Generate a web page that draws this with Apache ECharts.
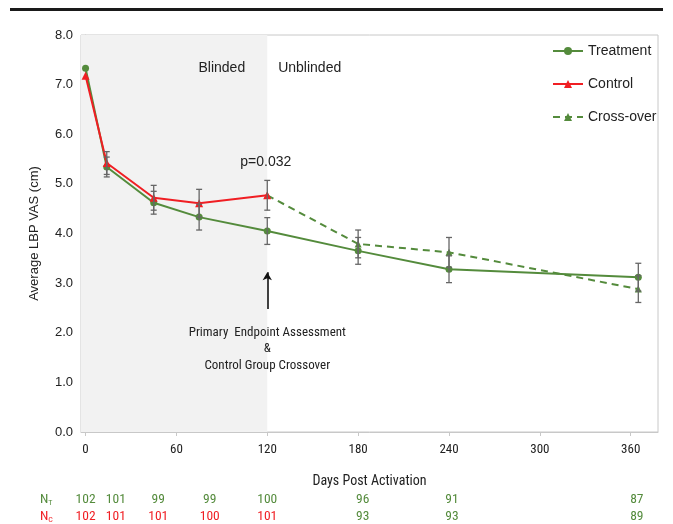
<!DOCTYPE html>
<html>
<head>
<meta charset="utf-8">
<script src="https://cdn.jsdelivr.net/npm/echarts@6/dist/echarts.min.js"></script>
<style>html,body{margin:0;padding:0;background:#fff}#c{width:673px;height:524px}</style>
</head>
<body>
<div id="c"></div>
<script>
// ---- data ----
const treatDays = [0, 14, 45, 75, 120, 180, 240, 365];
const treatVals = [7.33, 5.34, 4.62, 4.33, 4.05, 3.65, 3.28, 3.12];
const treatErr  = [0.00, 0.20, 0.23, 0.26, 0.27, 0.27, 0.27, 0.28];
const ctrlDays = [0, 14, 45, 75, 120];
const ctrlVals = [7.18, 5.42, 4.72, 4.61, 4.77];
const ctrlErr  = [0.00, 0.23, 0.25, 0.28, 0.30];
const crossDays = [120, 180, 240, 365];
const crossVals = [4.77, 3.79, 3.62, 2.88];
const crossErr  = [0.00, 0.28, 0.30, 0.27];
const xTicks = [0, 60, 120, 180, 240, 300, 360];
const yTicks = [0, 1, 2, 3, 4, 5, 6, 7, 8];
const nDays = [0, 20, 48, 82, 120, 183, 242, 364];
const nT = ['102', '101', '99', '99', '100', '96', '91', '87'];
const nC = ['102', '101', '101', '100', '101', '93', '93', '89'];
const nCColorIsControl = [true, true, true, true, true, false, false, false];

const GREEN = '#548b3c';
const RED = '#f01e23';
const NARROW = "'Liberation Sans Narrow','Roboto Condensed','Arial Narrow',sans-serif";
const SANS = "'Liberation Sans',Arial,sans-serif";

const pairs = (xs, ys) => xs.map((x, i) => [x, ys[i]]);
const errData = [];
treatDays.forEach((d, i) => { if (treatErr[i] > 0) errData.push([d, treatVals[i] - treatErr[i], treatVals[i] + treatErr[i]]); });
ctrlDays.forEach((d, i) => { if (ctrlErr[i] > 0) errData.push([d, ctrlVals[i] - ctrlErr[i], ctrlVals[i] + ctrlErr[i]]); });
crossDays.forEach((d, i) => { if (crossErr[i] > 0) errData.push([d, crossVals[i] - crossErr[i], crossVals[i] + crossErr[i]]); });

const chart = echarts.init(document.getElementById('c'), null, {renderer: 'canvas'});
const option = {
  animation: false,
  backgroundColor: '#fff',
  grid: {left: 81, right: 15, top: 35, bottom: 92, show: true, borderColor: '#c8c8c8', borderWidth: 1, backgroundColor: 'transparent'},
  xAxis: {
    type: 'value', min: -3, max: 378,
    name: 'Days Post Activation', nameLocation: 'middle', nameGap: 42,
    nameTextStyle: {fontFamily: NARROW, fontSize: 14, color: '#222'},
    axisLine: {show: true, onZero: false, lineStyle: {color: '#c8c8c8'}},
    axisTick: {show: true, customValues: xTicks, length: 4, lineStyle: {color: '#c8c8c8'}},
    axisLabel: {customValues: xTicks, fontFamily: NARROW, fontSize: 13, color: '#222', margin: 11},
    splitLine: {show: false}
  },
  yAxis: {
    type: 'value', min: 0, max: 8, interval: 1,
    name: 'Average LBP VAS (cm)', nameLocation: 'middle', nameGap: 40,
    nameTextStyle: {fontFamily: SANS, fontSize: 13, color: '#222'},
    axisLine: {show: true, lineStyle: {color: '#c8c8c8'}},
    axisTick: {show: true, length: 4, lineStyle: {color: '#c8c8c8'}},
    axisLabel: {formatter: v => v.toFixed(1), fontFamily: SANS, fontSize: 13, color: '#222', margin: 8},
    splitLine: {show: false}
  },
  legend: {
    orient: 'vertical', left: 547, top: 39, itemGap: 19, itemWidth: 30, itemHeight: 10,
    textStyle: {fontFamily: SANS, fontSize: 14, color: '#222'},
    data: ['Treatment', 'Control', 'Cross-over']
  },
  series: [
    {
      name: 'shade', type: 'line', data: [], silent: true,
      markArea: {silent: true, itemStyle: {color: '#f2f2f2'}, data: [[{xAxis: -3, yAxis: 0}, {xAxis: 120, yAxis: 8}]]}
    },
    {
      name: 'Cross-over', type: 'line', data: pairs(crossDays, crossVals), z: 3,
      symbol: 'triangle', symbolSize: 7,
      lineStyle: {color: GREEN, width: 2, type: [7, 5]}, itemStyle: {color: GREEN}
    },
    {
      name: 'Treatment', type: 'line', data: pairs(treatDays, treatVals), z: 4,
      symbol: 'circle', symbolSize: 7,
      lineStyle: {color: GREEN, width: 2}, itemStyle: {color: GREEN},
      markLine: {
        silent: true, symbol: ['none', 'arrow'], symbolSize: [7, 8],
        lineStyle: {color: '#111', width: 1.6, type: 'solid'}, label: {show: false},
        data: [[{coord: [120, 2.48]}, {coord: [120, 3.22]}]]
      }
    },
    {
      name: 'Control', type: 'line', data: pairs(ctrlDays, ctrlVals), z: 5,
      symbol: 'triangle', symbolSize: 8,
      lineStyle: {color: RED, width: 2}, itemStyle: {color: RED}
    },
    {
      name: 'err', type: 'custom', z: 6, silent: true,
      data: errData,
      renderItem: function (params, api) {
        const x = api.value(0);
        const lo = api.coord([x, api.value(1)]);
        const hi = api.coord([x, api.value(2)]);
        const w = 3;
        const st = {stroke: '#666', lineWidth: 1.3};
        return {type: 'group', children: [
          {type: 'line', shape: {x1: lo[0], y1: lo[1], x2: hi[0], y2: hi[1]}, style: st},
          {type: 'line', shape: {x1: lo[0] - w, y1: lo[1], x2: lo[0] + w, y2: lo[1]}, style: st},
          {type: 'line', shape: {x1: hi[0] - w, y1: hi[1], x2: hi[0] + w, y2: hi[1]}, style: st}
        ]};
      }
    }
  ]
};
chart.setOption(option);

const px = (d, v) => chart.convertToPixel({gridIndex: 0}, [d, v]);
const graphics = [];
graphics.push({type: 'rect', shape: {x: 10, y: 8, width: 653, height: 3}, style: {fill: '#1a1a1a'}, z: 100});
function addText(d, v, text, opts) {
  const p = px(d, v);
  graphics.push({type: 'text', x: p[0], y: p[1], z: 100, style: Object.assign({text: text, fill: '#222', fontFamily: NARROW, fontSize: 13, align: 'center', verticalAlign: 'middle'}, opts || {})});
}
addText(90, 7.34, 'Blinded', {fontSize: 14, fontFamily: SANS});
addText(148, 7.34, 'Unblinded', {fontSize: 14, fontFamily: SANS});
addText(119, 5.43, 'p=0.032', {fontSize: 14, fontFamily: SANS});
addText(120, 2.0, 'Primary  Endpoint Assessment', {fontSize: 13});
addText(120, 1.67, '&', {fontSize: 13});
addText(120, 1.33, 'Control Group Crossover', {fontSize: 13});

// N rows
const rowT = 500, rowC = 517;
graphics.push({type: 'text', x: 40, y: rowT, z: 100, style: {
  text: '{m|N}{s|T}', verticalAlign: 'middle', align: 'left',
  rich: {m: {fontFamily: NARROW, fontSize: 13.5, fill: GREEN}, s: {fontFamily: NARROW, fontSize: 8, fill: GREEN, padding: [6, 0, 0, 0]}}
}});
graphics.push({type: 'text', x: 40, y: rowC, z: 100, style: {
  text: '{m|N}{s|C}', verticalAlign: 'middle', align: 'left',
  rich: {m: {fontFamily: NARROW, fontSize: 13.5, fill: RED}, s: {fontFamily: NARROW, fontSize: 8, fill: RED, padding: [6, 0, 0, 0]}}
}});
nDays.forEach((d, i) => {
  const x = px(d, 0)[0];
  graphics.push({type: 'text', x: x, y: rowT, z: 100, style: {text: nT[i], fill: GREEN, fontFamily: NARROW, fontSize: 13.5, align: 'center', verticalAlign: 'middle'}});
  graphics.push({type: 'text', x: x, y: rowC, z: 100, style: {text: nC[i], fill: nCColorIsControl[i] ? RED : GREEN, fontFamily: NARROW, fontSize: 13.5, align: 'center', verticalAlign: 'middle'}});
});
chart.setOption({graphic: graphics});
</script>
</body>
</html>
